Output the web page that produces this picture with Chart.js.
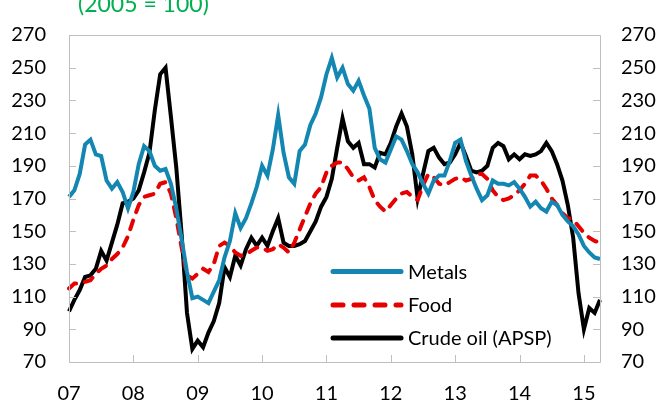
<!DOCTYPE html>
<html lang="en">
<head>
    <meta charset="UTF-8">
    <title>Metals, food and crude oil prices</title>
    <script src="https://cdn.jsdelivr.net/npm/chart.js"></script>
    <style>
        body {
            margin: 0;
            padding: 0;
            background: #fff;
            font-family: Lato, "Open Sans", sans-serif;
        }

        .wrap {
            position: relative;
            width: 658px;
            height: 402px;
            overflow: hidden;
        }

        .subtitle {
            position: absolute;
            left: 78px;
            top: -8px;
            font-size: 23px;
            line-height: 23px;
            color: #00b050;
            white-space: nowrap;
        }
    </style>
</head>
<body>
    <div class="wrap">
        <canvas id="priceChart" width="658" height="402"></canvas>
        <div class="subtitle">(2005 = 100)</div>
    </div>

    <script>
        // monthly data, Jan 2007 - Apr 2015
        const years = ['07', '08', '09', '10', '11', '12', '13', '14', '15'];
        const yTicks = [70, 90, 110, 130, 150, 170, 190, 210, 230, 250, 270];

        const metals = [
            171, 175, 185, 203, 206, 197, 196, 181, 176, 180, 174, 164,
            174, 191, 202, 199, 190, 187, 188, 179, 164, 145, 125, 109,
            110, 108, 106, 113, 120, 134, 144, 161, 152, 158, 167, 177,
            190, 184, 200, 221, 198, 183, 179, 199, 203, 215, 222, 232,
            246, 256, 244, 250, 240, 236, 242, 233, 225, 201, 194, 192,
            200, 208, 206, 199, 191, 186, 179, 173, 181, 184, 184, 193,
            204, 206, 193, 184, 176, 169, 172, 181, 179, 179, 178, 180,
            176, 171, 165, 168, 164, 162, 168, 166, 160, 156, 153, 148,
            141, 137, 134, 133
        ];

        const food = [
            115, 118, 118, 119, 120, 124, 127, 129, 133, 136, 140, 147,
            157, 166, 171, 172, 173, 179, 180, 173, 158, 140, 123, 121,
            124, 127, 125, 130, 141, 143, 141, 137, 135, 136, 138, 140,
            140, 138, 139, 142, 140, 137, 143, 151, 159, 167, 173, 177,
            186, 190, 192, 192, 188, 183, 181, 183, 177, 169, 165, 162,
            166, 170, 173, 174, 171, 169, 178, 185, 183, 179, 178, 180,
            182, 183, 181, 182, 185, 185, 182, 175, 171, 169, 170, 172,
            175, 179, 184, 184, 181, 176, 170, 166, 161, 158, 157, 153,
            149, 146, 144, 143
        ];

        const crudeOil = [
            101, 108, 114, 122, 123, 127, 138, 132, 143, 154, 167, 168,
            170, 175, 186, 198, 224, 246, 250, 220, 189, 148, 100, 78,
            83, 79, 88, 95, 106, 128, 122, 135, 129, 139, 146, 141,
            146, 141, 150, 158, 143, 141, 141, 142, 144, 150, 156, 165,
            171, 182, 201, 219, 205, 201, 204, 191, 191, 189, 198, 197,
            204, 214, 222, 214, 197, 170, 185, 199, 201, 195, 191, 192,
            197, 204, 196, 187, 186, 187, 190, 201, 204, 202, 194, 197,
            194, 197, 196, 197, 199, 204, 199, 191, 181, 166, 146, 112,
            90, 103, 100, 108
        ];

        // one label per month, only January gets the year
        const labels = metals.map((v, i) => (i % 12 === 0 ? years[i / 12] : ''));

        const axisGrey = '#bfbfbf';

        // frame, inward tick marks and the legend inside the plot
        const extras = {
            id: 'extras',
            afterDraw(chart) {
                const ctx = chart.ctx;
                const a = chart.chartArea;
                const x = chart.scales.x;
                const yl = chart.scales.y;
                const yr = chart.scales.y2;

                ctx.save();
                ctx.strokeStyle = axisGrey;
                ctx.lineWidth = 1;
                ctx.beginPath();
                ctx.rect(Math.round(a.left) + 0.5, Math.round(a.top) + 0.5,
                    Math.round(a.right - a.left), Math.round(a.bottom - a.top));
                ctx.stroke();

                ctx.beginPath();
                labels.forEach((l, i) => {
                    if (l === '') return;
                    const px = Math.round(x.getPixelForValue(i)) + 0.5;
                    ctx.moveTo(px, a.bottom);
                    ctx.lineTo(px, a.bottom - 7);
                });
                yTicks.forEach(v => {
                    const py = Math.round(yl.getPixelForValue(v)) + 0.5;
                    ctx.moveTo(a.left, py);
                    ctx.lineTo(a.left + 7, py);
                    const pr = Math.round(yr.getPixelForValue(v)) + 0.5;
                    ctx.moveTo(a.right, pr);
                    ctx.lineTo(a.right - 7, pr);
                });
                ctx.stroke();

                // legend
                const rows = [271.5, 305, 338];
                ctx.font = '20px Lato';
                ctx.textBaseline = 'middle';
                ctx.fillStyle = '#000';
                chart.data.datasets.forEach((ds, i) => {
                    ctx.beginPath();
                    ctx.strokeStyle = ds.borderColor;
                    ctx.lineWidth = 5;
                    ctx.lineCap = 'round';
                    ctx.setLineDash(ds.borderDash ? [10, 11] : []);
                    ctx.moveTo(333, rows[i]);
                    ctx.lineTo(401, rows[i]);
                    ctx.stroke();
                    ctx.setLineDash([]);
                    ctx.fillText(ds.label, 408, rows[i] + 1);
                });
                ctx.restore();
            }
        };

        const ctx1 = document.getElementById('priceChart').getContext('2d');
        new Chart(ctx1, {
            type: 'line',
            data: {
                labels: labels,
                datasets: [{
                    label: 'Metals',
                    data: metals,
                    borderColor: '#1386b2',
                    borderWidth: 4,
                    pointRadius: 0,
                    tension: 0,
                    yAxisID: 'y'
                }, {
                    label: 'Food',
                    data: food,
                    borderColor: '#e60000',
                    borderWidth: 4,
                    borderDash: [9, 9],
                    borderCapStyle: 'round',
                    pointRadius: 0,
                    tension: 0,
                    yAxisID: 'y'
                }, {
                    label: 'Crude oil (APSP)',
                    data: crudeOil,
                    borderColor: '#000000',
                    borderWidth: 4,
                    pointRadius: 0,
                    tension: 0,
                    yAxisID: 'y'
                }]
            },
            options: {
                responsive: false,
                animation: false,
                layout: { padding: { top: 22, left: 0, right: 0, bottom: 0 } },
                plugins: {
                    legend: { display: false },
                    tooltip: { enabled: false }
                },
                scales: {
                    x: {
                        offset: false,
                        grid: { display: false, drawTicks: false },
                        border: { display: false },
                        ticks: {
                            autoSkip: false,
                            maxRotation: 0,
                            padding: 20,
                            color: '#000',
                            font: { family: 'Lato', size: 20 }
                        },
                        afterFit(s) { s.height = 40; }
                    },
                    y: {
                        position: 'left',
                        min: 70,
                        max: 270,
                        grid: { display: false, drawTicks: false },
                        border: { display: false },
                        ticks: {
                            stepSize: 20,
                            padding: 23,
                            color: '#000',
                            font: { family: 'Lato', size: 20 }
                        },
                        afterFit(s) { s.width = 69; }
                    },
                    y2: {
                        position: 'right',
                        min: 70,
                        max: 270,
                        grid: { display: false, drawTicks: false },
                        border: { display: false },
                        ticks: {
                            stepSize: 20,
                            padding: 21,
                            color: '#000',
                            font: { family: 'Lato', size: 20 }
                        },
                        afterFit(s) { s.width = 58; }
                    }
                }
            },
            plugins: [extras]
        });
    </script>
</body>
</html>
